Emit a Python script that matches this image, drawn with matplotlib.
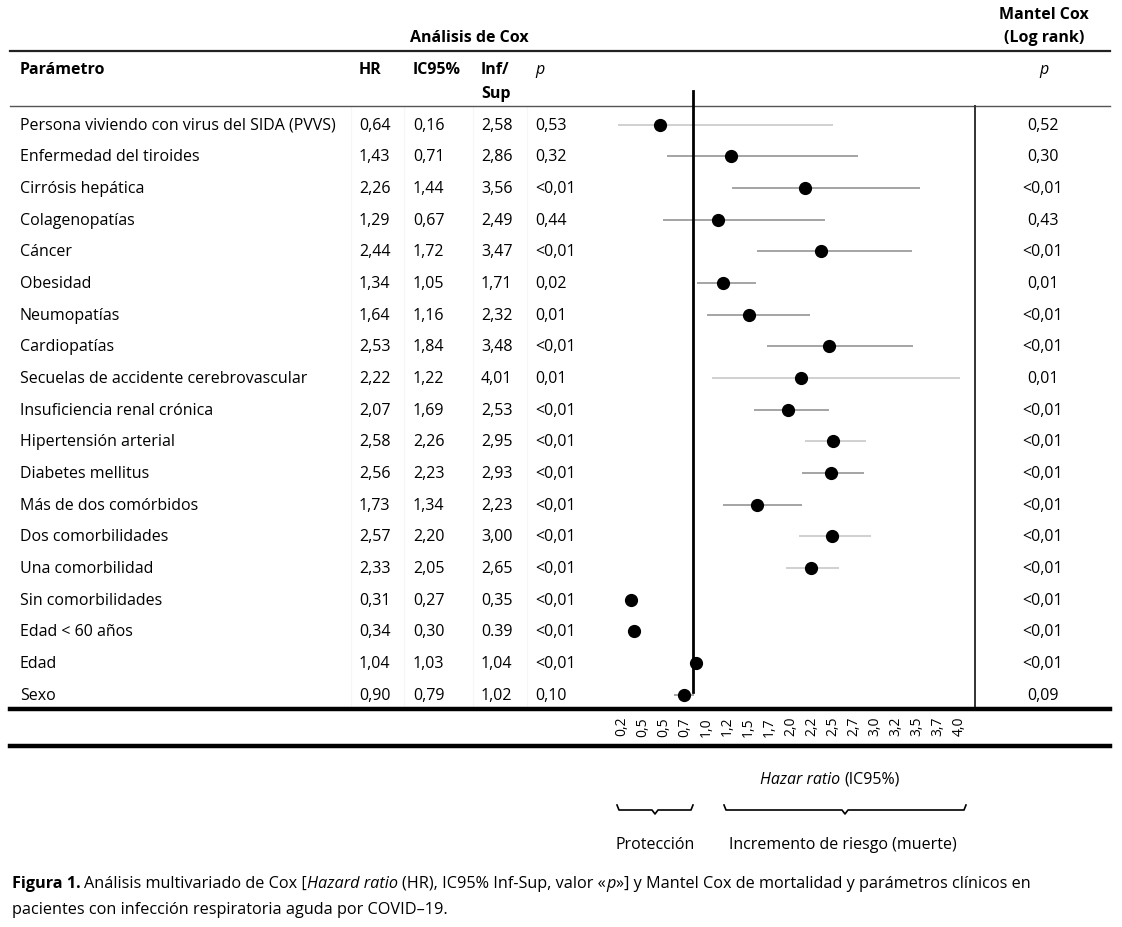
import numpy as np
import matplotlib
matplotlib.use('Agg')
import matplotlib.pyplot as plt

plt.rcParams['font.family'] = ['Open Sans', 'DejaVu Sans']

params = ['Persona viviendo con virus del SIDA (PVVS)', 'Enfermedad del tiroides',
          'Cirrósis hepática', 'Colagenopatías', 'Cáncer', 'Obesidad', 'Neumopatías',
          'Cardiopatías', 'Secuelas de accidente cerebrovascular',
          'Insuficiencia renal crónica', 'Hipertensión arterial', 'Diabetes mellitus',
          'Más de dos comórbidos', 'Dos comorbilidades', 'Una comorbilidad',
          'Sin comorbilidades', 'Edad < 60 años', 'Edad', 'Sexo']
hr = [0.64, 1.43, 2.26, 1.29, 2.44, 1.34, 1.64, 2.53, 2.22, 2.07, 2.58, 2.56,
      1.73, 2.57, 2.33, 0.31, 0.34, 1.04, 0.90]
ci_lo = [0.16, 0.71, 1.44, 0.67, 1.72, 1.05, 1.16, 1.84, 1.22, 1.69, 2.26, 2.23,
         1.34, 2.20, 2.05, 0.27, 0.30, 1.03, 0.79]
ci_hi = [2.58, 2.86, 3.56, 2.49, 3.47, 1.71, 2.32, 3.48, 4.01, 2.53, 2.95, 2.93,
         2.23, 3.00, 2.65, 0.35, 0.39, 1.04, 1.02]
hi_text = ['2,58', '2,86', '3,56', '2,49', '3,47', '1,71', '2,32', '3,48', '4,01',
           '2,53', '2,95', '2,93', '2,23', '3,00', '2,65', '0,35', '0.39', '1,04', '1,02']
p_cox = ['0,53', '0,32', '<0,01', '0,44', '<0,01', '0,02', '0,01', '<0,01', '0,01',
         '<0,01', '<0,01', '<0,01', '<0,01', '<0,01', '<0,01', '<0,01', '<0,01',
         '<0,01', '0,10']
p_mantel = ['0,52', '0,30', '<0,01', '0,43', '<0,01', '0,01', '<0,01', '<0,01', '0,01',
            '<0,01', '<0,01', '<0,01', '<0,01', '<0,01', '<0,01', '<0,01', '<0,01',
            '<0,01', '0,09']
tick_labels = ['0,2', '0,5', '0,5', '0,7', '1,0', '1,2', '1,5', '1,7', '2,0', '2,2',
               '2,5', '2,7', '3,0', '3,2', '3,5', '3,7', '4,0']
ci_colors = ['#c4c4c4', '#8c8c8c', '#8c8c8c', '#8c8c8c', '#8c8c8c', '#8c8c8c',
             '#8c8c8c', '#8c8c8c', '#c4c4c4', '#8c8c8c', '#c4c4c4', '#8c8c8c',
             '#8c8c8c', '#c4c4c4', '#c4c4c4', '#8c8c8c', '#8c8c8c', '#8c8c8c',
             '#8c8c8c']


def fmt(v):
    return f'{v:.2f}'.replace('.', ',')


W, H = 1122, 928
fig = plt.figure(figsize=(W / 100, H / 100), dpi=100)
ax = fig.add_axes([0, 0, 1, 1])
ax.set_xlim(0, W)
ax.set_ylim(H, 0)
ax.axis('off')
renderer = fig.canvas.get_renderer()

fs = 11.5
row0, dy = 125.5, 31.67
n = len(params)

# header
ax.text(469, 38, 'Análisis de Cox', fontsize=fs, weight='bold', ha='center', va='center')
ax.text(1044, 15, 'Mantel Cox', fontsize=fs, weight='bold', ha='center', va='center')
ax.text(1044, 38, '(Log rank)', fontsize=fs, weight='bold', ha='center', va='center')
ax.plot([10, 1110], [52, 52], color='#222222', lw=1.6)
ax.text(20, 70, 'Parámetro', fontsize=fs, weight='bold', va='center')
ax.text(359, 70, 'HR', fontsize=fs, weight='bold', va='center')
ax.text(413, 70, 'IC95%', fontsize=fs, weight='bold', va='center')
ax.text(481, 70, 'Inf/', fontsize=fs, weight='bold', va='center')
ax.text(481, 94, 'Sup', fontsize=fs, weight='bold', va='center')
ax.text(535, 70, 'p', fontsize=fs, style='italic', va='center')
ax.text(1044, 70, 'p', fontsize=fs, style='italic', ha='center', va='center')
ax.plot([10, 1110], [107, 107], color='#555555', lw=1.0)

# faint column separators
for xs in [351, 404, 473, 527]:
    ax.plot([xs, xs], [107, 710], color='#f6f6f6', lw=0.8, zorder=0)

# table rows
for i in range(n):
    y = row0 + i * dy
    ax.text(20, y, params[i], fontsize=fs, va='center')
    ax.text(359, y, fmt(hr[i]), fontsize=fs, va='center')
    ax.text(413, y, fmt(ci_lo[i]), fontsize=fs, va='center')
    ax.text(481, y, hi_text[i], fontsize=fs, va='center')
    ax.text(535, y, p_cox[i], fontsize=fs, va='center')
    ax.text(1043, y, p_mantel[i], fontsize=fs, ha='center', va='center')

ax.plot([975, 975], [107, 710], color='#333333', lw=1.4)
ax.plot([10, 1110], [710, 710], color='black', lw=3.2)
ax.plot([10, 1110], [747, 747], color='black', lw=3.2)

# forest plot axes (HR scale)
x0_px, px_per_unit = 603.5, 89.0
fx = fig.add_axes([590 / W, 1 - 710 / H, (975 - 590) / W, (710 - 107) / H])
fx.patch.set_alpha(0)
fx.set_xlim((590 - x0_px) / px_per_unit, (975 - x0_px) / px_per_unit)
fx.set_ylim((710 - row0) / dy, (107 - row0) / dy)
for s in fx.spines.values():
    s.set_visible(False)
fx.set_yticks([])
fx.set_xticks(np.linspace(0.2, 4.0, len(tick_labels)))
fx.set_xticklabels(tick_labels, rotation=90, fontsize=10)
fx.tick_params(axis='x', length=0, pad=5)

rows = np.arange(n)
fx.hlines(rows, ci_lo, ci_hi, colors=ci_colors, lw=1.1, zorder=2)
fx.plot([1.0, 1.0], [(92 - row0) / dy, (693 - row0) / dy], color='black', lw=2.0,
        clip_on=False, zorder=3)
fx.plot(hr, rows, 'o', color='black', markersize=8.5, zorder=4, clip_on=False)


def chain(x, y, parts, size):
    # parts: (text, style, weight, gap after)
    for s, style, weight, gap in parts:
        t = ax.text(x, y, s, fontsize=size, style=style, weight=weight, va='center')
        bb = t.get_window_extent(renderer)
        x += bb.width + gap
    return x


chain(760, 780, [('Hazar ratio', 'italic', 'normal', 4),
                 ('(IC95%)', 'normal', 'normal', 0)], fs)


def brace(xa, xb, y, h=7):
    xm = (xa + xb) / 2
    ax.plot([xa, xa + 2, xm - 3, xm, xm + 3, xb - 2, xb],
            [y, y + h - 2, y + h - 2, y + h + 2, y + h - 2, y + h - 2, y],
            color='black', lw=1.2)


brace(617, 693, 806)
brace(724, 966, 806)
ax.text(655, 845, 'Protección', fontsize=fs, ha='center', va='center')
ax.text(843, 845, 'Incremento de riesgo (muerte)', fontsize=fs, ha='center', va='center')

# caption
cfs = 11.7
chain(12, 884, [('Figura 1.', 'normal', 'bold', 3.5),
                ('Análisis multivariado de Cox [', 'normal', 'normal', 0.5),
                ('Hazard ratio', 'italic', 'normal', 3.5),
                ('(HR), IC95% Inf-Sup, valor «', 'normal', 'normal', 0.5),
                ('p', 'italic', 'normal', 0.5),
                ('»] y Mantel Cox de mortalidad y parámetros clínicos en',
                 'normal', 'normal', 0)], cfs)
ax.text(12, 910, 'pacientes con infección respiratoria aguda por COVID–19.', fontsize=cfs,
        va='center')

fig.savefig('out.png', dpi=100)
